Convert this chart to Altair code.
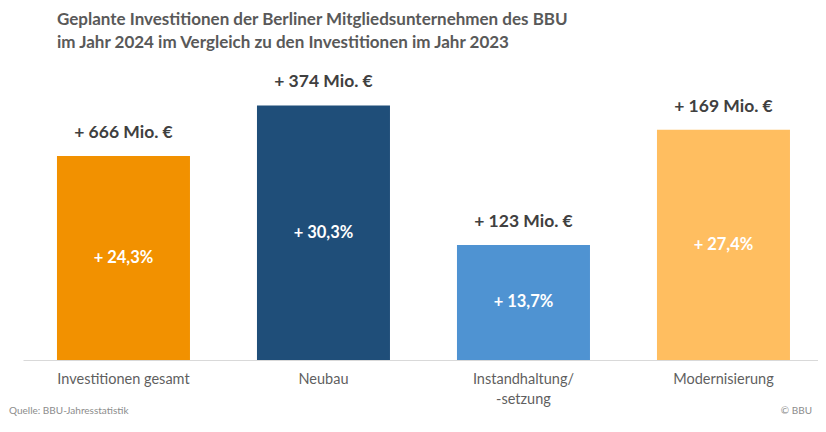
import altair as alt
import pandas as pd

categories = ["Investitionen gesamt", "Neubau", "Instandhaltung/|-setzung", "Modernisierung"]
percent = [24.3, 30.3, 13.7, 27.4]
pct_labels = ["+ 24,3%", "+ 30,3%", "+ 13,7%", "+ 27,4%"]
mio_labels = ["+ 666 Mio. €", "+ 374 Mio. €", "+ 123 Mio. €", "+ 169 Mio. €"]
colors = ["#F29100", "#1F4E79", "#4F93D2", "#FFBE60"]

df = pd.DataFrame({
    "cat": categories,
    "pct": percent,
    "pct_label": pct_labels,
    "mio_label": mio_labels,
    "color": colors,
})
df["half"] = df["pct"] / 2

FONT = "Lato"

x = alt.X("cat:N", sort=categories,
          scale=alt.Scale(paddingInner=0.335, paddingOuter=0.155, align=0.548),
          axis=alt.Axis(title=None, labelAngle=0, ticks=False, domainColor="#D9D9D9",
                        domainWidth=1, labelColor="#5F5F5F", labelFontSize=14.5,
                        labelFont=FONT, labelPadding=12, labelLineHeight=20,
                        labelExpr="split(datum.label, '|')"))
yscale = alt.Scale(domain=[0, 35])

base = alt.Chart(df)

bars = base.mark_bar().encode(
    x=x,
    y=alt.Y("pct:Q", scale=yscale, axis=None),
    color=alt.Color("color:N", scale=None),
)

top_text = base.mark_text(baseline="bottom", dy=-14, fontSize=17.5, fontWeight="bold",
                          color="#404040", font=FONT).encode(
    x=alt.X("cat:N", sort=categories), y=alt.Y("pct:Q", scale=yscale), text="mio_label:N")

mid_text = base.mark_text(baseline="middle", fontSize=16.5, fontWeight="bold",
                          color="white", font=FONT).encode(
    x=alt.X("cat:N", sort=categories), y=alt.Y("half:Q", scale=yscale), text="pct_label:N")

foot = pd.DataFrame({"t": ["Quelle: BBU-Jahresstatistik"]})
foot_l = alt.Chart(foot).mark_text(align="left", baseline="middle", fontSize=10,
                                   color="#8C8C8C", font=FONT).encode(
    x=alt.value(-14), y=alt.value(345), text="t:N")
foot2 = pd.DataFrame({"t": ["© BBU"]})
foot_r = alt.Chart(foot2).mark_text(align="right", baseline="middle", fontSize=10,
                                    color="#8C8C8C", font=FONT).encode(
    x=alt.value(789), y=alt.value(345), text="t:N")

chart = alt.layer(bars, top_text, mid_text, foot_l, foot_r).properties(
    width=795, height=294,
    title=alt.Title(
        ["Geplante Investitionen der Berliner Mitgliedsunternehmen des BBU",
         "im Jahr 2024 im Vergleich zu den Investitionen im Jahr 2023"],
        anchor="start", frame="group", dx=34, fontSize=17, fontWeight="bold",
        color="#595959", font=FONT, lineHeight=23, offset=14),
    autosize=alt.AutoSizeParams(type="none"),
    padding={"left": 15, "top": 58, "right": 0, "bottom": 62},
).configure_view(stroke=None)

chart.save("out.html", embed_options={"renderer": "svg", "actions": False})
